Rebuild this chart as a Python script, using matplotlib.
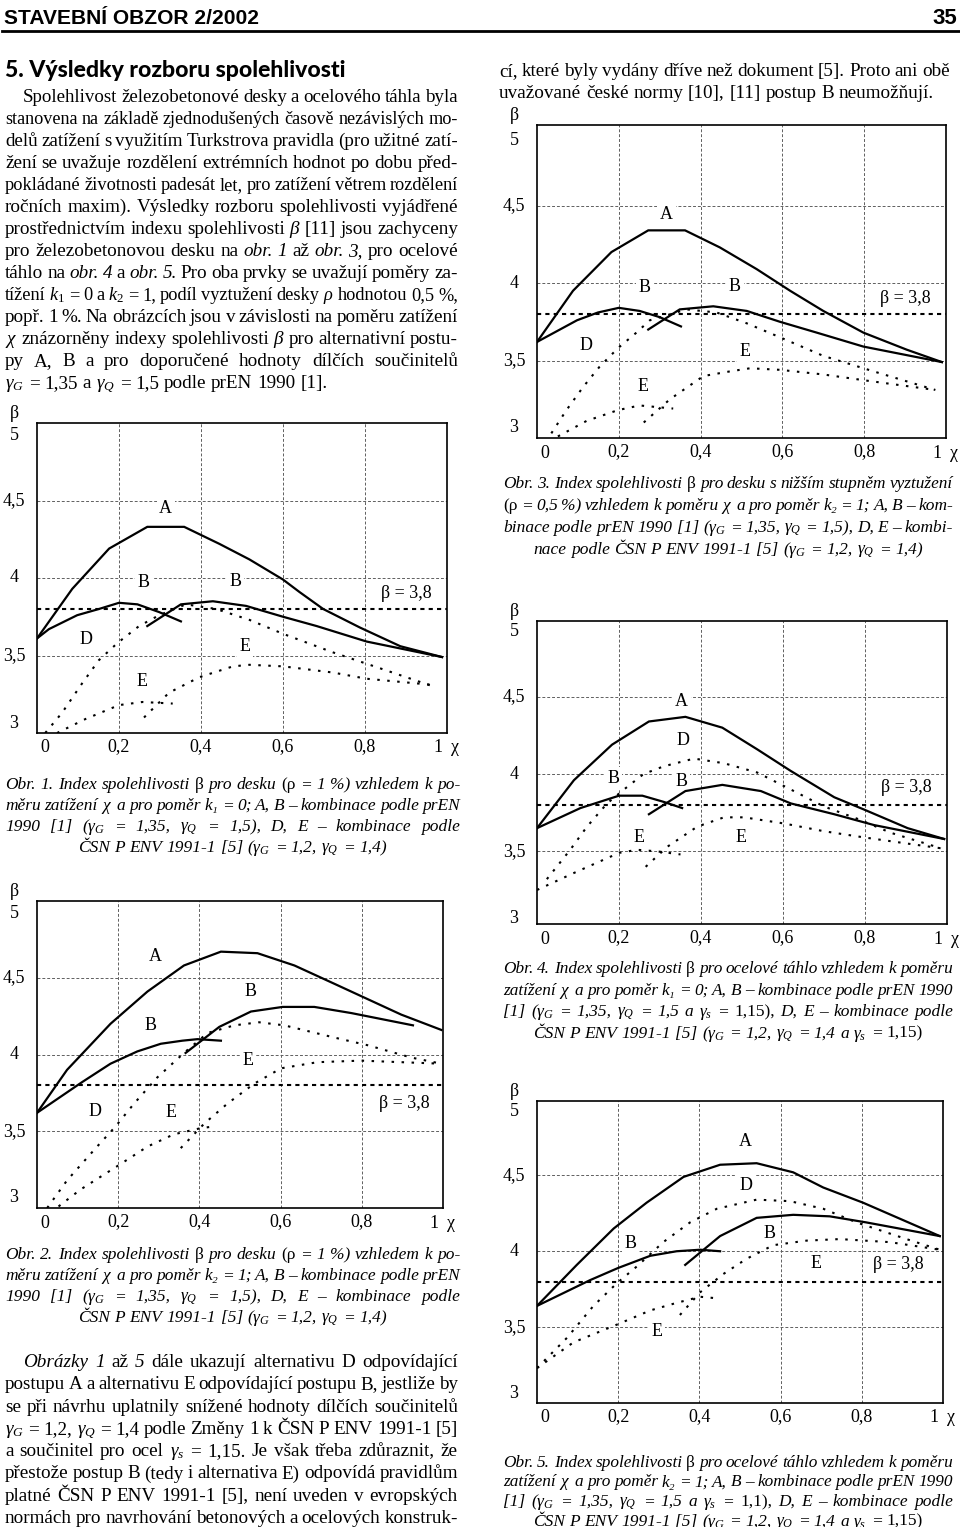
import matplotlib
matplotlib.use('Agg')
import matplotlib.pyplot as plt
from matplotlib.lines import Line2D

# ---------------------------------------------------------------- data
# obr. 1 - deska rho = 1 %, k1 = 0
obr1_A_chi = [0, 0.086, 0.176, 0.269, 0.359, 0.445, 0.518, 0.60, 0.64, 0.698, 0.788, 0.886, 0.988]
obr1_A_beta = [3.61, 3.93, 4.19, 4.33, 4.33, 4.22, 4.12, 3.99, 3.91, 3.80, 3.68, 3.56, 3.49]
obr1_B1_chi = [0, 0.029, 0.098, 0.151, 0.20, 0.245, 0.298, 0.351]
obr1_B1_beta = [3.61, 3.67, 3.76, 3.80, 3.84, 3.83, 3.78, 3.72]
obr1_B2_chi = [0.269, 0.351, 0.429, 0.51, 0.60, 0.682, 0.804, 0.988]
obr1_B2_beta = [3.69, 3.83, 3.85, 3.82, 3.75, 3.69, 3.59, 3.49]
obr1_D_chi = [0.02, 0.061, 0.11, 0.151, 0.196, 0.249, 0.298, 0.363, 0.437, 0.518, 0.60, 0.722, 0.845, 0.967]
obr1_D_beta = [3.00, 3.13, 3.32, 3.47, 3.58, 3.69, 3.76, 3.83, 3.80, 3.73, 3.64, 3.52, 3.41, 3.30]
obr1_E1_chi = [0.049, 0.118, 0.20, 0.257, 0.331]
obr1_E1_beta = [3.00, 3.09, 3.18, 3.20, 3.19]
obr1_E2_chi = [0.261, 0.322, 0.396, 0.478, 0.518, 0.60, 0.722, 0.804, 0.967]
obr1_E2_beta = [3.10, 3.26, 3.36, 3.43, 3.44, 3.43, 3.39, 3.35, 3.31]

# obr. 2 - deska rho = 1 %, k2 = 1
obr2_A_chi = [0, 0.074, 0.181, 0.272, 0.362, 0.453, 0.543, 0.634, 0.733, 0.815, 0.897, 0.996]
obr2_A_beta = [3.62, 3.90, 4.20, 4.41, 4.58, 4.67, 4.66, 4.58, 4.46, 4.36, 4.26, 4.16]
obr2_B1_chi = [0, 0.111, 0.181, 0.247, 0.305, 0.358, 0.395, 0.453]
obr2_B1_beta = [3.62, 3.82, 3.94, 4.02, 4.07, 4.09, 4.10, 4.09]
obr2_B2_chi = [0.366, 0.449, 0.527, 0.605, 0.683, 0.774, 0.926]
obr2_B2_beta = [4.01, 4.18, 4.28, 4.31, 4.31, 4.27, 4.19]
obr2_D_chi = [0.025, 0.074, 0.148, 0.193, 0.239, 0.296, 0.362, 0.42, 0.486, 0.547, 0.609, 0.733, 0.815, 0.922, 0.996]
obr2_D_beta = [3.00, 3.18, 3.40, 3.53, 3.68, 3.85, 4.01, 4.14, 4.19, 4.21, 4.19, 4.11, 4.06, 3.98, 3.94]
obr2_E1_chi = [0.053, 0.107, 0.202, 0.272, 0.337, 0.403, 0.432]
obr2_E1_beta = [3.01, 3.12, 3.28, 3.40, 3.48, 3.52, 3.53]
obr2_E2_chi = [0.354, 0.412, 0.469, 0.535, 0.601, 0.691, 0.798, 0.996]
obr2_E2_beta = [3.39, 3.55, 3.68, 3.81, 3.91, 3.95, 3.96, 3.94]

# obr. 3 - deska rho = 0,5 %, k2 = 1
obr3_A_chi = [0, 0.088, 0.182, 0.272, 0.362, 0.447, 0.537, 0.619, 0.70, 0.798, 0.904, 0.99]
obr3_A_beta = [3.62, 3.95, 4.20, 4.34, 4.34, 4.23, 4.09, 3.95, 3.82, 3.68, 3.57, 3.49]
obr3_B1_chi = [0, 0.098, 0.149, 0.20, 0.251, 0.30, 0.352]
obr3_B1_beta = [3.62, 3.76, 3.81, 3.84, 3.82, 3.78, 3.72]
obr3_B2_chi = [0.272, 0.349, 0.431, 0.513, 0.594, 0.684, 0.798, 0.99]
obr3_B2_beta = [3.70, 3.83, 3.85, 3.82, 3.75, 3.68, 3.59, 3.49]
obr3_D_chi = [0.035, 0.072, 0.113, 0.153, 0.198, 0.243, 0.276, 0.366, 0.439, 0.513, 0.594, 0.70, 0.823, 0.974]
obr3_D_beta = [3.03, 3.18, 3.33, 3.46, 3.58, 3.68, 3.76, 3.83, 3.81, 3.74, 3.65, 3.53, 3.43, 3.31]
obr3_E1_chi = [0.051, 0.121, 0.198, 0.251, 0.333]
obr3_E1_beta = [3.01, 3.11, 3.18, 3.21, 3.19]
obr3_E2_chi = [0.261, 0.325, 0.407, 0.472, 0.521, 0.594, 0.70, 0.807, 0.974]
obr3_E2_beta = [3.10, 3.25, 3.40, 3.43, 3.45, 3.44, 3.41, 3.37, 3.31]

# obr. 4 - tahlo, k1 = 0
obr4_A_chi = [0, 0.09, 0.183, 0.273, 0.362, 0.452, 0.537, 0.619, 0.725, 0.798, 0.904, 0.993]
obr4_A_beta = [3.65, 3.96, 4.19, 4.34, 4.37, 4.30, 4.16, 4.02, 3.85, 3.77, 3.65, 3.58]
obr4_B1_chi = [0, 0.106, 0.20, 0.257, 0.309, 0.354]
obr4_B1_beta = [3.65, 3.78, 3.86, 3.86, 3.82, 3.78]
obr4_B2_chi = [0.273, 0.362, 0.452, 0.546, 0.619, 0.725, 0.822, 0.993]
obr4_B2_beta = [3.74, 3.89, 3.93, 3.89, 3.81, 3.74, 3.67, 3.58]
obr4_D_chi = [0.024, 0.081, 0.122, 0.171, 0.212, 0.26, 0.309, 0.383, 0.456, 0.537, 0.619, 0.70, 0.782, 0.863, 0.985]
obr4_D_beta = [3.32, 3.51, 3.66, 3.81, 3.90, 4.00, 4.05, 4.10, 4.07, 4.01, 3.90, 3.79, 3.71, 3.62, 3.52]
obr4_E1_chi = [0, 0.09, 0.20, 0.244, 0.293, 0.35]
obr4_E1_beta = [3.25, 3.36, 3.49, 3.51, 3.50, 3.48]
obr4_E2_chi = [0.265, 0.318, 0.391, 0.456, 0.505, 0.603, 0.70, 0.798, 0.904, 0.985]
obr4_E2_beta = [3.40, 3.53, 3.66, 3.72, 3.72, 3.68, 3.63, 3.59, 3.55, 3.52]

# obr. 5 - tahlo, k2 = 1
obr5_A_chi = [0, 0.098, 0.189, 0.27, 0.361, 0.451, 0.541, 0.631, 0.705, 0.803, 0.992]
obr5_A_beta = [3.64, 3.91, 4.15, 4.32, 4.49, 4.57, 4.58, 4.52, 4.42, 4.32, 4.10]
obr5_B1_chi = [0, 0.131, 0.20, 0.279, 0.344, 0.402, 0.451]
obr5_B1_beta = [3.64, 3.81, 3.89, 3.97, 4.00, 4.01, 4.00]
obr5_B2_chi = [0.365, 0.451, 0.541, 0.631, 0.721, 0.811, 0.992]
obr5_B2_beta = [3.91, 4.10, 4.22, 4.24, 4.23, 4.19, 4.10]
obr5_D_chi = [0, 0.074, 0.139, 0.197, 0.246, 0.311, 0.377, 0.443, 0.541, 0.623, 0.705, 0.787, 0.91, 0.992]
obr5_D_beta = [3.23, 3.43, 3.64, 3.79, 3.90, 4.06, 4.19, 4.28, 4.34, 4.33, 4.28, 4.19, 4.08, 4.01]
obr5_E1_chi = [0, 0.09, 0.20, 0.279, 0.344, 0.402, 0.443]
obr5_E1_beta = [3.23, 3.40, 3.52, 3.61, 3.66, 3.70, 3.69]
obr5_E2_chi = [0.352, 0.402, 0.459, 0.516, 0.582, 0.664, 0.746, 0.869, 0.992]
obr5_E2_beta = [3.58, 3.73, 3.85, 3.95, 4.04, 4.07, 4.08, 4.06, 4.01]

BETA_TARGET = 3.8
GRID_CHI = [0.2, 0.4, 0.6, 0.8]
CHI_LABELS = ['0,2', '0,4', '0,6', '0,8']
BETA_TICKS = [3, 3.5, 4, 4.5, 5]
BETA_LABELS = ['3', '3,5', '4', '4,5', '5']

# ---------------------------------------------------------------- page setup
W, H = 960, 1527
plt.rcParams['font.family'] = ['Liberation Serif', 'DejaVu Serif']
plt.rcParams['mathtext.fontset'] = 'custom'
plt.rcParams['mathtext.rm'] = 'Liberation Serif'
plt.rcParams['mathtext.it'] = 'Liberation Serif:italic'
plt.rcParams['mathtext.bf'] = 'Liberation Serif:bold'

fig = plt.figure(figsize=(W / 100, H / 100), dpi=100)
renderer = fig.canvas.get_renderer()
PT = 0.72  # points per pixel


def fx(x):
    return x / W


def fy(y):
    return 1 - y / H


def fit_text(s, x0, x1, base, **kw):
    t = fig.text(0, 0, s, fontsize=10, va='baseline', ha='left', **kw)
    w = t.get_window_extent(renderer).width
    t.set_fontsize(10 * (x1 - x0) / w)
    t.set_position((fx(x0), fy(base)))
    return t


def text_line(line, x0, x1, base, size, style='normal', align='justify'):
    """Place one line of words, justified between x0 and x1 (pixels)."""
    words = []
    for tok in line.split():
        st = style
        if tok[0] == '*':
            st, tok = 'italic', tok[1:]
        elif tok[0] == '~':
            st, tok = 'normal', tok[1:]
        words.append(fig.text(0, 0, tok, fontsize=size, fontstyle=st, ha='left', va='baseline'))
    widths = [w.get_window_extent(renderer).width for w in words]
    n = len(words)
    min_gap = 0.2 * size / PT
    if sum(widths) + min_gap * (n - 1) > x1 - x0:
        k = (x1 - x0 - min_gap * (n - 1)) / sum(widths)
        for w in words:
            w.set_fontsize(size * k)
        widths = [w.get_window_extent(renderer).width for w in words]
    if align == 'justify' and n > 1:
        gap = (x1 - x0 - sum(widths)) / (n - 1)
        x = x0
    else:
        gap = 0.25 * size / PT
        total = sum(widths) + gap * (n - 1)
        x = x0 if align == 'left' else (x0 + x1 - total) / 2
    for w, wd in zip(words, widths):
        w.set_position((fx(x), fy(base)))
        x += wd + gap


def paragraph(lines, x0, x1, base, step, size, style='normal', indent=0, last='left'):
    for i, line in enumerate(lines):
        align = last if i == len(lines) - 1 else 'justify'
        text_line(line, x0 + (indent if i == 0 else 0), x1, base + i * step, size, style, align)


def chart(box, ylim, curves, labels):
    l, t, r, b = box
    ax = fig.add_axes([fx(l), fy(b), (r - l) / W, (b - t) / H])
    ax.set_xlim(0, 1)
    ax.set_ylim(*ylim)
    ax.set_xticks(GRID_CHI)
    ax.set_xticklabels(CHI_LABELS, fontsize=13)
    ax.set_yticks([3.5, 4, 4.5])
    ax.set_yticklabels([])
    ax.tick_params(length=0, pad=4)
    ax.set_axisbelow(True)
    ax.grid(True, color='#606060', lw=0.7, ls=(0, (3, 2)))
    for sp in ax.spines.values():
        sp.set_linewidth(1.2)
    ax.axhline(BETA_TARGET, color='black', lw=1.5, ls=(0, (2, 2)), zorder=3)
    for chi, beta, kind in curves:
        if kind == 'solid':
            ax.plot(chi, beta, color='black', lw=1.6, solid_joinstyle='miter', zorder=4)
        else:
            ax.plot(chi, beta, color='black', lw=1.5, ls=(0, (1.2, 3.6)), zorder=4)
    for s, x, y in labels:
        ax.text(x, y, s, fontsize=13, ha='center', va='center', zorder=1.5,
                bbox=dict(fc='white', ec='none', pad=2))
    # axis labels in the style of the article
    for val, lab in zip(BETA_TICKS, BETA_LABELS):
        dy = {5: -12, 3: 10}.get(val, 0)
        ax.annotate(lab, xy=(0, val), xycoords=('axes fraction', 'data'),
                    xytext=(-23 * PT, dy * PT), textcoords='offset points',
                    ha='center', va='center', fontsize=13, annotation_clip=False)
    ax.annotate('β', xy=(0, 1), xycoords='axes fraction', xytext=(-23 * PT, 10 * PT),
                textcoords='offset points', ha='center', va='center', fontsize=13)
    for s, x, dx in [('0', 0, 8), ('1', 1, -9), ('χ', 1, 8)]:
        ax.annotate(s, xy=(x, 0), xycoords=('data', 'axes fraction'), xytext=(dx * PT, -15 * PT),
                    textcoords='offset points', ha='center', va='center', fontsize=13)
    return ax


# ---------------------------------------------------------------- header
HEAD_FONT = ['Liberation Sans Narrow', 'Liberation Sans']
fit_text('STAVEBNÍ OBZOR 2/2002', 4, 259, 24, family=HEAD_FONT, fontweight='bold')
fig.text(fx(957), fy(24), '35', ha='right', va='baseline', family=HEAD_FONT,
         fontweight='bold', fontsize=16)
fig.add_artist(Line2D([fx(2), fx(960)], [fy(31), fy(31)], transform=fig.transFigure, color='black', lw=2))
fit_text('5. Výsledky rozboru spolehlivosti', 5, 345, 77, family=['Lato', 'DejaVu Sans'], fontweight='black')

# ---------------------------------------------------------------- text, left column
BODY = [
    "Spolehlivost železobetonové desky a ocelového táhla byla",
    "stanovena na základě zjednodušených časově nezávislých mo-",
    "delů zatížení s využitím Turkstrova pravidla (pro užitné zatí-",
    "žení se uvažuje rozdělení extrémních hodnot po dobu před-",
    "pokládané životnosti padesát let, pro zatížení větrem rozdělení",
    "ročních maxim). Výsledky rozboru spolehlivosti vyjádřené",
    r"prostřednictvím indexu spolehlivosti $\beta$ [11] jsou zachyceny",
    "pro železobetonovou desku na *obr. *1 až *obr. *3, pro ocelové",
    "táhlo na *obr. *4 a *obr. *5. Pro oba prvky se uvažují poměry za-",
    r"tížení $k_1$ = 0 a $k_2$ = 1, podíl vyztužení desky $\rho$ hodnotou 0,5 %,",
    "popř. 1 %. Na obrázcích jsou v závislosti na poměru zatížení",
    r"$\chi$ znázorněny indexy spolehlivosti $\beta$ pro alternativní postu-",
    "py A, B a pro doporučené hodnoty dílčích součinitelů",
    r"$\gamma_G$ = 1,35 a $\gamma_Q$ = 1,5 podle prEN 1990 [1].",
]
paragraph(BODY, 5, 458, 102, 22, 13.8, indent=18)

BODY2 = [
    "*Obrázky *1 až *5 dále ukazují alternativu D odpovídající",
    "postupu A a alternativu E odpovídající postupu B, jestliže by",
    "se při návrhu uplatnily snížené hodnoty dílčích součinitelů",
    r"$\gamma_G$ = 1,2, $\gamma_Q$ = 1,4 podle Změny 1 k ČSN P ENV 1991-1 [5]",
    r"a součinitel pro ocel $\gamma_s$ = 1,15. Je však třeba zdůraznit, že",
    "přestože postup B (tedy i alternativa E) odpovídá pravidlům",
    "platné ČSN P ENV 1991-1 [5], není uveden v evropských",
    "normách pro navrhování betonových a ocelových konstruk-",
]
paragraph(BODY2, 5, 458, 1367, 22.3, 13.8, indent=18, last='justify')

# ---------------------------------------------------------------- text, right column
BODY3 = [
    "cí, které byly vydány dříve než dokument [5]. Proto ani obě",
    "uvažované české normy [10], [11] postup B neumožňují.",
]
paragraph(BODY3, 499, 950, 76, 22, 13.8)

CAP1 = [
    "Obr. 1. Index spolehlivosti ~β pro desku ~(ρ = 1 %) vzhledem k po-",
    r"měru zatížení $\chi$ a pro poměr k₁ = 0; A, B – kombinace podle prEN",
    r"1990 [1] ($\gamma_G$ = 1,35, $\gamma_Q$ = 1,5), D, E – kombinace podle",
    r"ČSN P ENV 1991-1 [5] ($\gamma_G$ = 1,2, $\gamma_Q$ = 1,4)",
]
CAP2 = [
    "Obr. 2. Index spolehlivosti ~β pro desku ~(ρ = 1 %) vzhledem k po-",
    r"měru zatížení $\chi$ a pro poměr k₂ = 1; A, B – kombinace podle prEN",
    r"1990 [1] ($\gamma_G$ = 1,35, $\gamma_Q$ = 1,5), D, E – kombinace podle",
    r"ČSN P ENV 1991-1 [5] ($\gamma_G$ = 1,2, $\gamma_Q$ = 1,4)",
]
CAP3 = [
    "Obr. 3. Index spolehlivosti ~β pro desku s nižším stupněm vyztužení",
    r"~(ρ = 0,5 %) vzhledem k poměru $\chi$ a pro poměr k₂ = 1; A, B – kom-",
    r"binace podle prEN 1990 [1] ($\gamma_G$ = 1,35, $\gamma_Q$ = 1,5), D, E – kombi-",
    r"nace podle ČSN P ENV 1991-1 [5] ($\gamma_G$ = 1,2, $\gamma_Q$ = 1,4)",
]
CAP4 = [
    "Obr. 4. Index spolehlivosti ~β pro ocelové táhlo vzhledem k poměru",
    r"zatížení $\chi$ a pro poměr k₁ = 0; A, B – kombinace podle prEN 1990",
    r"[1] ($\gamma_G$ = 1,35, $\gamma_Q$ = 1,5 a $\gamma_s$ = ~1,15), D, E – kombinace podle",
    r"ČSN P ENV 1991-1 [5] ($\gamma_G$ = 1,2, $\gamma_Q$ = 1,4 a $\gamma_s$ = ~1,15)",
]
CAP5 = [
    "Obr. 5. Index spolehlivosti ~β pro ocelové táhlo vzhledem k poměru",
    r"zatížení $\chi$ a pro poměr k₂ = 1; A, B – kombinace podle prEN 1990",
    r"[1] ($\gamma_G$ = 1,35, $\gamma_Q$ = 1,5 a $\gamma_s$ = ~1,1), D, E – kombinace podle",
    r"ČSN P ENV 1991-1 [5] ($\gamma_G$ = 1,2, $\gamma_Q$ = 1,4 a $\gamma_s$ = ~1,15)",
]
CAP_SIZE = 12.5
paragraph(CAP1, 5, 460, 789, 21, CAP_SIZE, style='italic', last='center')
paragraph(CAP2, 5, 460, 1259, 21, CAP_SIZE, style='italic', last='center')
paragraph(CAP3, 503, 953, 488, 22, CAP_SIZE, style='italic', last='center')
paragraph(CAP4, 503, 953, 973, 21.5, CAP_SIZE, style='italic', last='center')
paragraph(CAP5, 503, 953, 1467, 19.5, CAP_SIZE, style='italic', last='center')

# ---------------------------------------------------------------- charts
chart((37, 423, 447, 733), (3, 5),
      [(obr1_A_chi, obr1_A_beta, 'solid'), (obr1_B1_chi, obr1_B1_beta, 'solid'),
       (obr1_B2_chi, obr1_B2_beta, 'solid'), (obr1_D_chi, obr1_D_beta, 'dot'),
       (obr1_E1_chi, obr1_E1_beta, 'dot'), (obr1_E2_chi, obr1_E2_beta, 'dot')],
      [('A', 0.314, 4.45), ('B', 0.261, 3.97), ('B', 0.483, 3.98), ('β = 3,8', 0.9, 3.90),
       ('D', 0.12, 3.60), ('E', 0.508, 3.56), ('E', 0.257, 3.33)])

chart((37, 901, 443, 1208), (3, 5),
      [(obr2_A_chi, obr2_A_beta, 'solid'), (obr2_B1_chi, obr2_B1_beta, 'solid'),
       (obr2_B2_chi, obr2_B2_beta, 'solid'), (obr2_D_chi, obr2_D_beta, 'dot'),
       (obr2_E1_chi, obr2_E1_beta, 'dot'), (obr2_E2_chi, obr2_E2_beta, 'dot')],
      [('A', 0.292, 4.64), ('B', 0.527, 4.41), ('B', 0.28, 4.19), ('E', 0.519, 3.96),
       ('D', 0.142, 3.63), ('E', 0.331, 3.62), ('β = 3,8', 0.905, 3.68)])

chart((537, 125, 946, 438), (3, 5.02),
      [(obr3_A_chi, obr3_A_beta, 'solid'), (obr3_B1_chi, obr3_B1_beta, 'solid'),
       (obr3_B2_chi, obr3_B2_beta, 'solid'), (obr3_D_chi, obr3_D_beta, 'dot'),
       (obr3_E1_chi, obr3_E1_beta, 'dot'), (obr3_E2_chi, obr3_E2_beta, 'dot')],
      [('A', 0.317, 4.44), ('B', 0.264, 3.97), ('B', 0.484, 3.98), ('β = 3,8', 0.9, 3.90),
       ('D', 0.121, 3.60), ('E', 0.509, 3.56), ('E', 0.26, 3.33)])

chart((537, 621, 947, 924), (3.03, 4.99),
      [(obr4_A_chi, obr4_A_beta, 'solid'), (obr4_B1_chi, obr4_B1_beta, 'solid'),
       (obr4_B2_chi, obr4_B2_beta, 'solid'), (obr4_D_chi, obr4_D_beta, 'dot'),
       (obr4_E1_chi, obr4_E1_beta, 'dot'), (obr4_E2_chi, obr4_E2_beta, 'dot')],
      [('A', 0.353, 4.47), ('D', 0.356, 4.22), ('B', 0.187, 3.97), ('B', 0.352, 3.95),
       ('β = 3,8', 0.9, 3.91), ('E', 0.25, 3.59), ('E', 0.498, 3.59)])

chart((537, 1101, 943, 1403), (3, 4.99),
      [(obr5_A_chi, obr5_A_beta, 'solid'), (obr5_B1_chi, obr5_B1_beta, 'solid'),
       (obr5_B2_chi, obr5_B2_beta, 'solid'), (obr5_D_chi, obr5_D_beta, 'dot'),
       (obr5_E1_chi, obr5_E1_beta, 'dot'), (obr5_E2_chi, obr5_E2_beta, 'dot')],
      [('A', 0.512, 4.72), ('D', 0.514, 4.43), ('B', 0.572, 4.12), ('B', 0.23, 4.05),
       ('E', 0.686, 3.92), ('β = 3,8', 0.89, 3.91), ('E', 0.295, 3.47)])

fig.savefig('out.png', dpi=100)
